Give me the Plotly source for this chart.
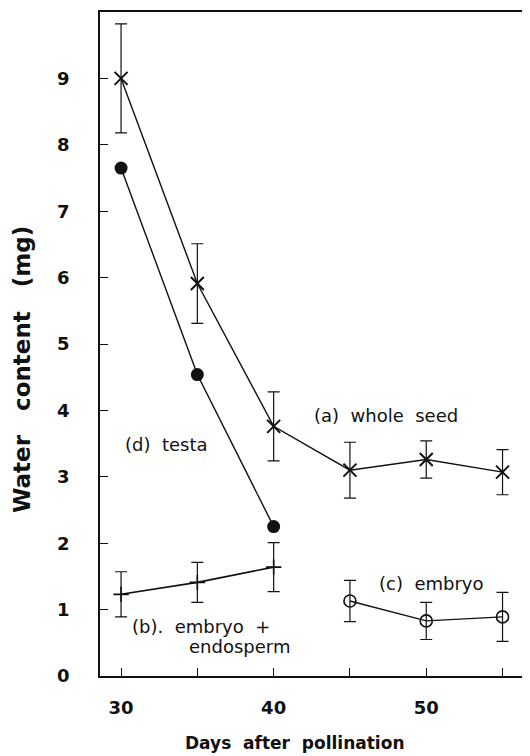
import plotly.graph_objects as go

whole_seed_days = [30, 35, 40, 45, 50, 55]
whole_seed = [9.0, 5.91, 3.76, 3.10, 3.26, 3.07]
whole_seed_err = [0.82, 0.60, 0.52, 0.42, 0.28, 0.34]

testa_days = [30, 35, 40]
testa = [7.65, 4.54, 2.25]

emb_endo_days = [30, 35, 40]
emb_endo = [1.23, 1.41, 1.64]
emb_endo_err = [0.34, 0.30, 0.37]

embryo_days = [45, 50, 55]
embryo = [1.13, 0.83, 0.89]
embryo_err = [0.31, 0.28, 0.37]

x_tick_vals = [30, 35, 40, 45, 50, 55]
x_tick_text = ["30", "", "40", "", "50", ""]
y_tick_vals = [0, 1, 2, 3, 4, 5, 6, 7, 8, 9]

labels = ["(a)  whole  seed", "(d)  testa", "(c)  embryo", "(b).  embryo  +", "endosperm"]
x_title = "Days  after  pollination"
y_title = "Water   content   (mg)"

BLACK = "#111111"

# page body has an 8px default margin; size the figure so it fits the 530x756 window
OFF = 8
W, H = 530 - OFF, 756 - OFF
L, R, T, B = 100 - OFF, 0, 12 - OFF, 756 - 676
pw, ph = W - L - R, H - T - B

fig = go.Figure()

def err(vals):
    return dict(type="data", array=vals, visible=True, color=BLACK, thickness=1.2, width=6)

fig.add_trace(go.Scatter(
    x=whole_seed_days, y=whole_seed, mode="lines+markers",
    line=dict(color=BLACK, width=1.4),
    marker=dict(symbol="x-thin", size=13, line=dict(color=BLACK, width=2), color=BLACK),
    error_y=err(whole_seed_err), showlegend=False))

fig.add_trace(go.Scatter(
    x=testa_days, y=testa, mode="lines+markers",
    line=dict(color=BLACK, width=1.4),
    marker=dict(symbol="circle", size=13, color=BLACK),
    showlegend=False))

fig.add_trace(go.Scatter(
    x=emb_endo_days, y=emb_endo, mode="lines+markers",
    line=dict(color=BLACK, width=1.6),
    marker=dict(symbol="cross-thin", size=11, line=dict(color=BLACK, width=1.6), color=BLACK),
    error_y=err(emb_endo_err), showlegend=False))

fig.add_trace(go.Scatter(
    x=embryo_days, y=embryo, mode="lines+markers",
    line=dict(color=BLACK, width=1.4),
    marker=dict(symbol="circle-open", size=12, line=dict(color=BLACK, width=1.6), color=BLACK),
    error_y=err(embryo_err), showlegend=False))

ann_font = dict(family="DejaVu Sans", size=18, color=BLACK)
ann_pos = [(47.35, 3.92), (32.98, 3.49), (50.31, 1.40), (35.21, 0.74), (37.77, 0.44)]
for txt, (ax, ay) in zip(labels, ann_pos):
    fig.add_annotation(x=ax, y=ay, xref="x", yref="y", text=txt, showarrow=False,
                       xanchor="center", yanchor="middle", font=ann_font)

fig.add_annotation(x=((186 + 403) / 2 - OFF - L) / pw, y=(H - B - (743 - OFF)) / ph,
                   xref="paper", yref="paper", text=x_title, showarrow=False,
                   xanchor="center", yanchor="middle",
                   font=dict(family="DejaVu Sans", size=17, color=BLACK, weight="bold"))
fig.add_annotation(x=(22 - OFF - L) / pw, y=(H - B - (370 - OFF)) / ph, xref="paper", yref="paper",
                   text=y_title, showarrow=False, textangle=-90,
                   xanchor="center", yanchor="middle",
                   font=dict(family="DejaVu Sans", size=23, color=BLACK, weight="bold"))

fig.update_layout(
    width=W, height=H,
    margin=dict(l=L, r=R, t=T, b=B, autoexpand=False),
    paper_bgcolor="white", plot_bgcolor="white",
    font=dict(family="DejaVu Sans", color=BLACK),
    xaxis=dict(range=[28.62, 56.8], tickvals=x_tick_vals, ticktext=x_tick_text,
               ticks="inside", ticklen=8, tickwidth=1.3, tickcolor=BLACK,
               showline=True, linecolor=BLACK, linewidth=1.5, mirror=True,
               showgrid=False, zeroline=False, ticklabelstandoff=15, automargin=False,
               tickfont=dict(family="DejaVu Sans", size=18, color=BLACK, weight="bold")),
    yaxis=dict(range=[0, 10], tickvals=y_tick_vals,
               ticks="inside", ticklen=8, tickwidth=1.3, tickcolor=BLACK,
               showline=True, linecolor=BLACK, linewidth=1.5, automargin=False,
               showgrid=False, zeroline=False, ticklabelstandoff=25,
               tickfont=dict(family="DejaVu Sans", size=18, color=BLACK, weight="bold")),
)

fig.write_html("out.html")
